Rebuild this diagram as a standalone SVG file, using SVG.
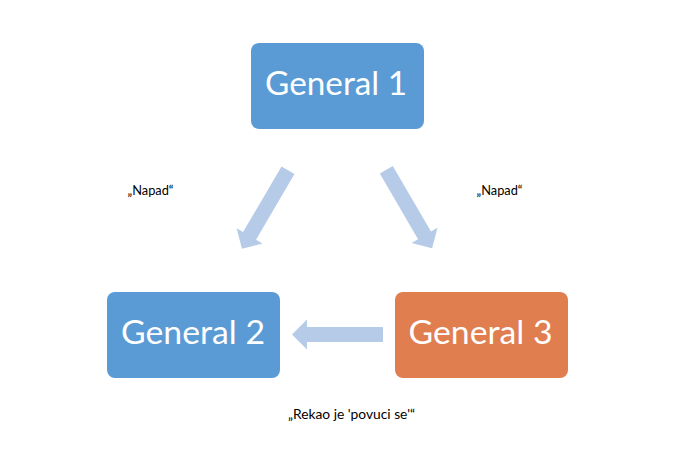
<svg xmlns="http://www.w3.org/2000/svg" width="698" height="459" viewBox="0 0 698 459">
<defs>
<style>
.box{fill:#5B9BD5}
.orange{fill:#E07E50}
.big{font-family:Lato,"Open Sans",sans-serif;font-size:32.5px;fill:#FFFFFF;text-anchor:middle}
.small{font-family:Lato,"Open Sans",sans-serif;font-size:13.5px;fill:#000000;text-anchor:middle}
.arrow{fill:#B6CBE8}
</style>
<path id="arr" d="M0,-7.5 L76,-7.5 L76,-15 L91,0 L76,15 L76,7.5 L0,7.5 Z"/>
</defs>
<rect width="698" height="459" fill="#FFFFFF"/>
<g id="connectors">
<use href="#arr" class="arrow" transform="translate(288,170.3) rotate(120.4)"/>
<use href="#arr" class="arrow" transform="translate(386.3,169.7) rotate(59.8)"/>
<use href="#arr" class="arrow" transform="translate(383,334.5) rotate(180)"/>
</g>
<g id="label1"><text class="small" x="150.5" y="195" textLength="46" lengthAdjust="spacingAndGlyphs">„Napad“</text></g>
<g id="label2"><text class="small" x="499.5" y="195" textLength="46" lengthAdjust="spacingAndGlyphs">„Napad“</text></g>
<g id="label3"><text class="small" x="351.5" y="419" textLength="127" lengthAdjust="spacingAndGlyphs">„Rekao je 'povuci se'“</text></g>
<g id="general1">
<rect class="box" x="251" y="43" width="173" height="86" rx="8"/>
<text class="big" x="336" y="95" textLength="142" lengthAdjust="spacingAndGlyphs">General 1</text>
</g>
<g id="general2">
<rect class="box" x="107" y="292" width="173" height="86" rx="8"/>
<text class="big" x="193" y="344" textLength="144" lengthAdjust="spacingAndGlyphs">General 2</text>
</g>
<g id="general3">
<rect class="orange" x="395" y="292" width="173" height="86" rx="8"/>
<text class="big" x="480.5" y="344" textLength="144" lengthAdjust="spacingAndGlyphs">General 3</text>
</g>
</svg>
